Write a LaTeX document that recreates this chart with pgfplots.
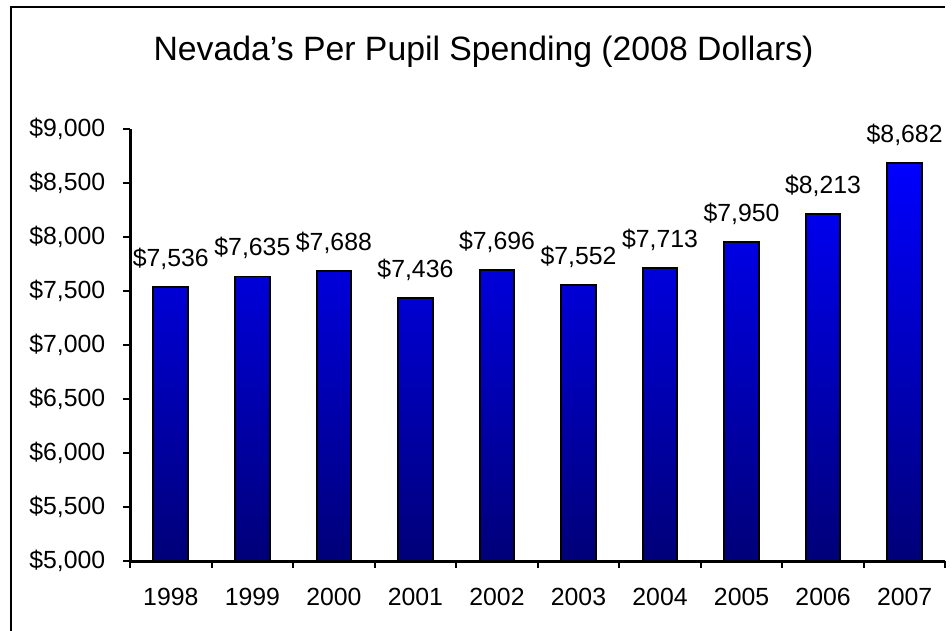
\documentclass[border=0pt]{standalone}
\usepackage{fontspec}
\setmainfont{Liberation Sans}
\usepackage{pgfplots}
\pgfplotsset{compat=1.18}

\definecolor{barblue}{RGB}{0,0,255}
\definecolor{barnavy}{RGB}{0,0,120}

\begin{document}
\begin{tikzpicture}
% frame and title, in units of half a point (one pixel of the reference)
\begin{scope}[x=0.5pt,y=0.5pt]
  \useasboundingbox (-131,-70) rectangle (821,565);
  \draw[line width=1pt] (-120,-70) -- (-120,558) -- (821,558);
  \node[font=\fontsize{17}{20}\selectfont] at (356,513)
    {Nevada's Per Pupil Spending (2008 Dollars)};
\end{scope}
\begin{axis}[
    at={(0,0)}, anchor=south west,
    scale only axis,
    width=410.5pt, height=217.5pt,
    ybar, bar width=17.5pt,
    xmin=-0.5, xmax=9.5,
    ymin=5000, ymax=9000,
    y coord trafo/.code={\pgfmathparse{#1-5000}},
    y coord inv trafo/.code={\pgfmathparse{#1+5000}},
    axis x line*=bottom, axis y line*=left,
    axis line style={line width=1.5pt},
    tick align=outside,
    major tick length=3.5pt,
    tick style={black, line width=1pt},
    xtick={-0.5,0.5,...,9.5},
    xticklabels={},
    extra x ticks={0,1,...,9},
    extra x tick labels={1998,1999,2000,2001,2002,2003,2004,2005,2006,2007},
    extra x tick style={major tick length=0pt,
      tick label style={yshift=-10pt}},
    ytick={5000,5500,...,9000},
    scaled y ticks=false,
    yticklabel={\$\pgfmathprintnumber{\tick}},
    yticklabel style={xshift=-5.5pt},
    /pgf/number format/assume math mode=true,
    /pgf/number format/1000 sep={,},
    tick label style={font=\fontsize{12.5}{15}\selectfont},
    point meta=explicit,
    nodes near coords={\$\pgfmathprintnumber{\pgfplotspointmeta}},
    every node near coord/.append style={font=\fontsize{12.5}{15}\selectfont, yshift=5pt},
    clip=false,
]
\addplot[draw=black, line width=1pt, top color=barblue, bottom color=barnavy]
  table[x=x, y=y, meta=y] {
  x y
  0 7536
  1 7635
  2 7688
  3 7436
  4 7696
  5 7552
  6 7713
  7 7950
  8 8213
  9 8682
};
\end{axis}
\end{tikzpicture}
\end{document}
